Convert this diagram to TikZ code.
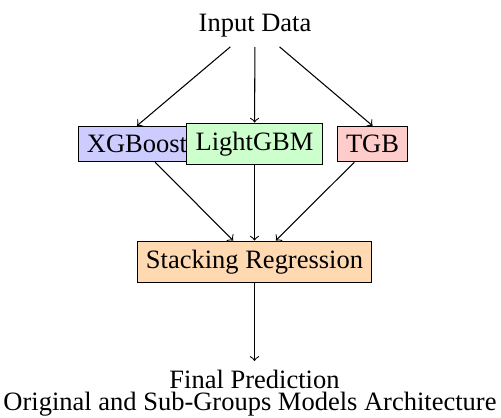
\documentclass[tikz,border=0pt]{standalone}
\usepackage{fontspec}
\setmainfont{Liberation Serif}
\begin{document}
\begin{tikzpicture}[x=0.3774pt,y=-0.3774pt,
  model/.style={draw, line width=0.4pt, inner sep=3.33pt},
  plain/.style={inner sep=3.33pt},
  conn/.style={->, line width=0.4pt}]
\useasboundingbox (0,0) rectangle (501,418);
\node[plain] (input) at (255,26) {Input Data};
\node[model, fill=blue!20] (xgb) at (137,144) {XGBoost};
\node[model, fill=green!20] (lgbm) at (254.5,144) {LightGBM};
\node[model, fill=red!20] (tgb) at (372.5,144) {TGB};
\node[model, fill=orange!30] (stack) at (254.5,262) {Stacking Regression};
\node[inner xsep=3.33pt, inner ysep=0.5pt, outer ysep=2.83pt, anchor=north] (final) at (254.5,361) {Final Prediction};
\node[inner sep=0pt, anchor=base] (caption) at (250,411) {Original and Sub-Groups Models Architecture};
\draw[conn] (input) -- (xgb.north);
\draw[conn] (input) -- (lgbm);
\draw[conn] (input) -- (tgb.north);
\draw[conn] (xgb) -- (stack);
\draw[conn] (lgbm) -- (stack);
\draw[conn] (tgb) -- (stack);
\draw[conn] (stack) -- (final);
\end{tikzpicture}
\end{document}
